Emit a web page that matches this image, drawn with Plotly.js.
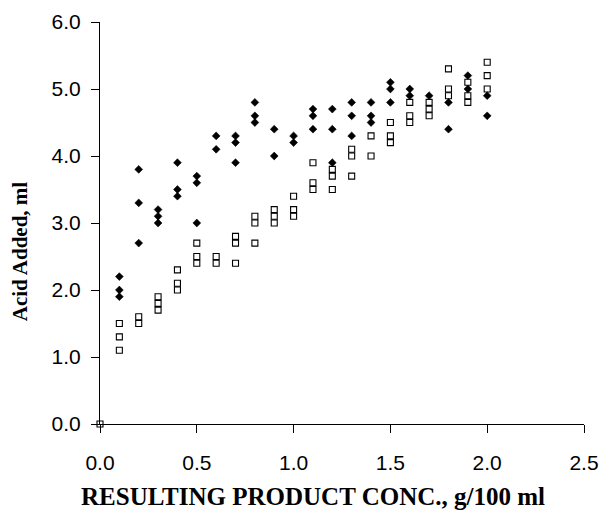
<!DOCTYPE html>
<html>
<head>
<meta charset="utf-8">
<script src="https://cdn.plot.ly/plotly-3.0.1.min.js"></script>
<style>html,body{margin:0;padding:0;background:#fff;}#chart{width:613px;height:510px;}</style>
</head>
<body>
<div id="chart"></div>
<script>
// Filled diamonds series
const diamondX = [0.1,0.1,0.1, 0.2,0.2,0.2, 0.3,0.3,0.3, 0.4,0.4,0.4, 0.5,0.5,0.5, 0.6,0.6, 0.7,0.7,0.7, 0.8,0.8,0.8, 0.9,0.9, 1.0,1.0, 1.1,1.1,1.1, 1.2,1.2,1.2, 1.3,1.3,1.3, 1.4,1.4,1.4, 1.5,1.5,1.5, 1.6,1.6, 1.7, 1.8,1.8, 1.9,1.9, 2.0,2.0];
const diamondY = [2.2,2.0,1.9, 3.8,3.3,2.7, 3.2,3.1,3.0, 3.9,3.5,3.4, 3.7,3.6,3.0, 4.3,4.1, 4.3,4.2,3.9, 4.8,4.6,4.5, 4.4,4.0, 4.3,4.2, 4.7,4.6,4.4, 4.7,4.4,3.9, 4.8,4.6,4.3, 4.8,4.6,4.5, 5.1,5.0,4.8, 5.0,4.9, 4.9, 4.8,4.4, 5.2,5.0, 4.9,4.6];
// Open squares series
const squareX = [0.0, 0.1,0.1,0.1, 0.2,0.2, 0.3,0.3,0.3, 0.4,0.4,0.4, 0.5,0.5,0.5, 0.6,0.6, 0.7,0.7,0.7, 0.8,0.8,0.8, 0.9,0.9,0.9, 1.0,1.0,1.0, 1.1,1.1,1.1, 1.2,1.2,1.2, 1.3,1.3,1.3, 1.4,1.4, 1.5,1.5,1.5, 1.6,1.6,1.6, 1.7,1.7,1.7, 1.8,1.8,1.8, 1.9,1.9,1.9, 2.0,2.0,2.0];
const squareY = [0.0, 1.5,1.3,1.1, 1.6,1.5, 1.9,1.8,1.7, 2.3,2.1,2.0, 2.7,2.5,2.4, 2.5,2.4, 2.8,2.7,2.4, 3.1,3.0,2.7, 3.2,3.1,3.0, 3.4,3.2,3.1, 3.9,3.6,3.5, 3.8,3.7,3.5, 4.1,4.0,3.7, 4.3,4.0, 4.5,4.3,4.2, 4.8,4.6,4.5, 4.8,4.7,4.6, 5.3,5.0,4.9, 5.1,4.9,4.8, 5.4,5.2,5.0];
const xTickVals = [0, 0.5, 1.0, 1.5, 2.0, 2.5];
const xTickText = ["0.0","0.5","1.0","1.5","2.0","2.5"];
const yTickVals = [0,1,2,3,4,5,6];
const yTickText = ["0.0","1.0","2.0","3.0","4.0","5.0","6.0"];
const xTitle = "RESULTING PRODUCT CONC., g/100 ml";
const yTitle = "Acid Added, ml";

const traces = [
  {x: diamondX, y: diamondY, type: 'scatter', mode: 'markers', cliponaxis: false,
   marker: {symbol: 'diamond', size: 6, color: '#000', line: {color: '#000', width: 0.6}}},
  {x: squareX, y: squareY, type: 'scatter', mode: 'markers', cliponaxis: false,
   marker: {symbol: 'square-open', size: 6, color: '#000', line: {color: '#000', width: 1.1}}}
];
const tickFont = {family: 'Liberation Sans, Arial, sans-serif', size: 21, color: '#000'};
const layout = {
  width: 613, height: 510,
  margin: {l: 100, r: 29, t: 22, b: 86},
  paper_bgcolor: '#fff', plot_bgcolor: '#fff',
  showlegend: false,
  xaxis: {range: [0, 2.5], tickvals: xTickVals, ticktext: xTickText, ticks: 'outside', ticklen: 8, tickwidth: 1, tickcolor: '#000',
          showline: true, linecolor: '#000', linewidth: 1, showgrid: false, zeroline: false, tickfont: tickFont, ticklabelstandoff: 12},
  yaxis: {range: [0, 6], tickvals: yTickVals, ticktext: yTickText, ticks: 'outside', ticklen: 8, tickwidth: 1, tickcolor: '#000',
          showline: true, linecolor: '#000', linewidth: 1, showgrid: false, zeroline: false, tickfont: tickFont, ticklabelstandoff: 6},
  annotations: [
    {text: '<b>' + xTitle + '</b>', xref: 'paper', yref: 'paper', x: 0.44, y: -0.18, xanchor: 'center', yanchor: 'middle', showarrow: false,
     font: {family: 'Liberation Serif, Times New Roman, serif', size: 25, color: '#000'}},
    {text: '<b>' + yTitle + '</b>', xref: 'paper', yref: 'paper', x: -0.165, y: 0.43, xanchor: 'center', yanchor: 'middle', textangle: -90, showarrow: false,
     font: {family: 'Liberation Serif, Times New Roman, serif', size: 21, color: '#000'}}
  ]
};
Plotly.newPlot('chart', traces, layout, {displayModeBar: false, staticPlot: true});
</script>
</body>
</html>
